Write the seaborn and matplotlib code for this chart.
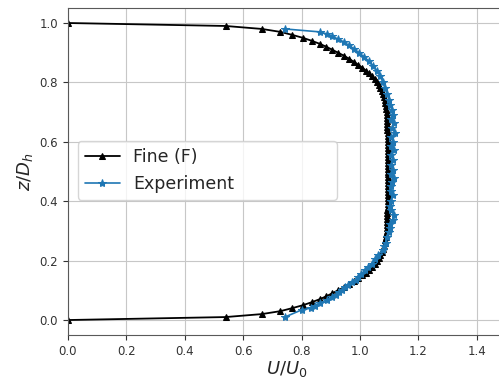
import numpy as np
import pandas as pd
import matplotlib
matplotlib.use("Agg")
import matplotlib.pyplot as plt
import seaborn as sns

# Fine (F) simulation profile: z/Dh and U/U0
fine_z = [1.00, 0.99, 0.98, 0.97, 0.96, 0.95, 0.94, 0.93, 0.92, 0.91,
          0.90, 0.89, 0.88, 0.87, 0.86, 0.85, 0.84, 0.83, 0.82, 0.81,
          0.80, 0.79, 0.78, 0.77, 0.76, 0.75, 0.74, 0.73, 0.72, 0.71,
          0.70, 0.69, 0.68, 0.67, 0.66, 0.65, 0.64, 0.63, 0.62, 0.61,
          0.60, 0.59, 0.58, 0.57, 0.56, 0.55, 0.54, 0.53, 0.52, 0.51,
          0.50, 0.49, 0.48, 0.47, 0.46, 0.45, 0.44, 0.43, 0.42, 0.41,
          0.40, 0.39, 0.38, 0.37, 0.36, 0.35, 0.34, 0.33, 0.32, 0.31,
          0.30, 0.29, 0.28, 0.27, 0.26, 0.25, 0.24, 0.23, 0.22, 0.21,
          0.20, 0.19, 0.18, 0.17, 0.16, 0.15, 0.14, 0.13, 0.12, 0.11,
          0.10, 0.09, 0.08, 0.07, 0.06, 0.05, 0.04, 0.03, 0.02, 0.01,
          0.00]
fine_u = [0.000, 0.540, 0.664, 0.728, 0.768, 0.805, 0.835, 0.862, 0.885, 0.905,
          0.925, 0.945, 0.962, 0.978, 0.993, 1.007, 1.020, 1.032, 1.042, 1.051,
          1.058, 1.065, 1.070, 1.075, 1.079, 1.082, 1.085, 1.087, 1.089, 1.090,
          1.091, 1.092, 1.093, 1.093, 1.094, 1.094, 1.094, 1.095, 1.095, 1.095,
          1.095, 1.095, 1.095, 1.095, 1.095, 1.095, 1.095, 1.095, 1.095, 1.095,
          1.095, 1.095, 1.095, 1.095, 1.095, 1.095, 1.095, 1.095, 1.095, 1.095,
          1.095, 1.095, 1.095, 1.094, 1.094, 1.094, 1.093, 1.093, 1.092, 1.092,
          1.091, 1.090, 1.089, 1.087, 1.085, 1.082, 1.079, 1.075, 1.070, 1.065,
          1.058, 1.051, 1.042, 1.032, 1.020, 1.007, 0.993, 0.978, 0.962, 0.945,
          0.925, 0.905, 0.885, 0.862, 0.835, 0.805, 0.768, 0.728, 0.664, 0.540,
          0.000]

# Experiment profile
exp_z = [0.980, 0.970, 0.963, 0.955, 0.946, 0.936, 0.925, 0.913, 0.900, 0.887,
         0.872, 0.856, 0.840, 0.822, 0.800, 0.780, 0.760, 0.740, 0.724, 0.707,
         0.690, 0.676, 0.663, 0.648, 0.630, 0.615, 0.600, 0.586, 0.572, 0.556,
         0.539, 0.522, 0.505, 0.490, 0.478, 0.465, 0.450, 0.435, 0.420, 0.400,
         0.385, 0.370, 0.354, 0.337, 0.322, 0.310, 0.295, 0.280, 0.260, 0.248,
         0.236, 0.219, 0.205, 0.190, 0.178, 0.168, 0.155, 0.145, 0.136, 0.128,
         0.118, 0.111, 0.102, 0.094, 0.085, 0.077, 0.067, 0.057, 0.048, 0.040,
         0.034, 0.010]
exp_u = [0.743, 0.863, 0.887, 0.905, 0.925, 0.945, 0.962, 0.980, 0.997, 1.013,
         1.030, 1.045, 1.058, 1.070, 1.078, 1.086, 1.093, 1.100, 1.103, 1.110,
         1.113, 1.108, 1.117, 1.110, 1.120, 1.108, 1.113, 1.108, 1.117, 1.106,
         1.113, 1.108, 1.113, 1.106, 1.117, 1.110, 1.106, 1.108, 1.113, 1.106,
         1.104, 1.106, 1.117, 1.113, 1.104, 1.102, 1.098, 1.092, 1.088, 1.083,
         1.078, 1.062, 1.050, 1.040, 1.028, 1.018, 1.005, 0.995, 0.985, 0.972,
         0.960, 0.950, 0.940, 0.928, 0.918, 0.905, 0.886, 0.862, 0.845, 0.832,
         0.800, 0.743]

fine = pd.DataFrame({"U": fine_u, "z": fine_z})
exp = pd.DataFrame({"U": exp_u, "z": exp_z})

sns.set_style("whitegrid", {"axes.edgecolor": "0.35", "grid.color": "0.78",
                            "xtick.bottom": True, "ytick.left": True})

fig = plt.figure(figsize=(4.99, 3.79), dpi=100)
ax = fig.add_axes([0.136, 0.1164, 0.878, 0.8621])

sns.lineplot(data=fine, x="U", y="z", sort=False, estimator=None, ax=ax,
             color="black", marker="^", markersize=5, markeredgecolor="black",
             linewidth=1.3, label="Fine (F)")
sns.lineplot(data=exp, x="U", y="z", sort=False, estimator=None, ax=ax,
             color="#1f77b4", marker="*", markersize=6, markeredgecolor="#1f77b4",
             linewidth=1.2, label="Experiment")

ax.set_xlim(0, 1.5)
ax.set_ylim(-0.05, 1.05)
ax.set_xticks([0.0, 0.2, 0.4, 0.6, 0.8, 1.0, 1.2, 1.4])
ax.set_yticks([0.0, 0.2, 0.4, 0.6, 0.8, 1.0])
ax.tick_params(labelsize=8.5, colors="0.2", length=3.5, width=0.8)
ax.set_xlabel("$U/U_0$", fontsize=13, labelpad=1)
ax.set_ylabel("$z/D_h$", fontsize=13, labelpad=3)

ax.legend(loc="lower left", bbox_to_anchor=(0.023, 0.413, 0.591, 0.174),
          mode="expand", borderaxespad=0, fontsize=12.5, frameon=True)

fig.savefig("out.png", dpi=100)
